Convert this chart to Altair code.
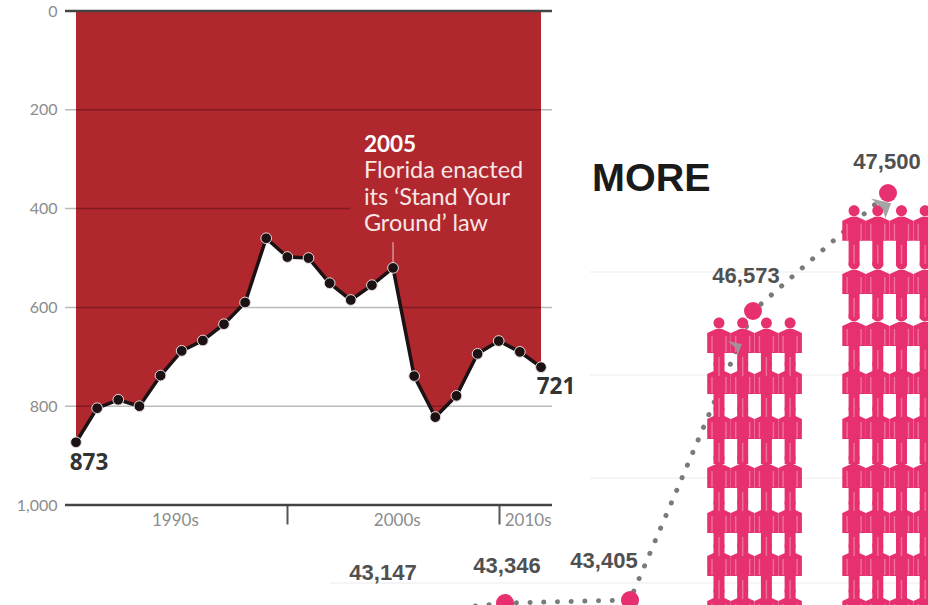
import altair as alt
import pandas as pd

# Florida firearm murders per year
years = list(range(1990, 2013))
murders = [873, 804, 787, 800, 738, 688, 667, 634, 590, 460, 498, 500,
           551, 585, 555, 520, 739, 822, 779, 694, 668, 690, 721]
grid_levels = [200, 400, 600, 800]
grid_ends = [2012.52, 2002.96, 2012.52, 2012.52]
frame_levels = [0, 1000]
axis_levels = [0, 200, 400, 600, 800, 1000]
decade_labels = ["1990s", "2000s", "2010s"]
decade_centres = [1994.7, 2005.2, 2011.39]
note_lines = ["2005", "Florida enacted", "its ‘Stand Your", "Ground’ law"]
note_levels = [271, 324, 378, 431]

# National totals drawn as a dotted series with a pictogram behind it
periods = [0, 1, 2, 3, 4]
totals = [43147, 43346, 43405, 46573, 47500]
label_dx = [3, 2, -26, -7, -1]
label_dy = [-43, -37, -39, -35, -31]
faint_levels = [43591, 44743, 45872, 46879]
faint_starts = [-0.4, 1.68, 1.68, 1.68]

# Pictogram: people per row, and the height of each row
stack_seats = [[0, 1, 2, 3], [5.7, 6.7, 7.7, 8.7]]
stack_rows = [[0, 0.96, 1.87, 2.83, 3.87, 4.83, 5.70],
              [0, 0.96, 1.87, 2.83, 3.87, 4.83, 5.85, 6.96, 8.09]]

RED = "#b0272d"
PINK = "#e6306f"
GREY = "#8c8c8c"
DARK = "#333333"
SANS = "Lato"
ARIAL = "Liberation Sans"

PERSON = ("M-5.5,-9a5.5,5.5 0 1,0 11,0a5.5,5.5 0 1,0 -11,0Z"
          "M-3,-3L3,-3L11.8,1L11.8,21L5.5,21L5.5,46L-5.5,46L-5.5,21L-11.8,21L-11.8,1Z")
PERSON_SEAMS = "M-7,4L-7,20M7,4L7,20M0,25L0,44"
ARROW = "M-12,-9L9,-4L3,12L0,2Z"

florida = pd.DataFrame({"year": years, "murders": murders})
grid = pd.DataFrame({"level": grid_levels, "start": 1989.48, "end": grid_ends})
frame = pd.DataFrame({"level": frame_levels, "start": 1989.48, "end": 2012.52})
decades = pd.DataFrame({"label": decade_labels, "year": decade_centres, "level": 1032})
note = pd.DataFrame({"line": note_lines, "year": 2003.62, "level": note_levels})
leader = pd.DataFrame({"year": [2005], "top": [468], "bottom": [520]})
ends = pd.DataFrame({"year": [1990, 2012], "murders": [873, 721]})

x_years = alt.Scale(domain=[1990, 2012], range=[76, 541])
y_murders = alt.Scale(domain=[0, 1000], range=[11, 505])
year_axis = alt.Axis(
    orient="bottom", offset=-100, values=[2000, 2010], labels=False, domain=False,
    grid=False, title=None, tickSize=19, tickWidth=2, tickColor="#555555")
count_axis = alt.Axis(
    orient="left", offset=-65, values=axis_levels, format=",d", domain=False,
    ticks=False, grid=False, title=None, labelPadding=8, labelFontSize=16,
    labelFont=SANS, labelColor=GREY, labelOverlap=False)


def year_x(field="year"):
    return alt.X(f"{field}:Q", scale=x_years, axis=year_axis)


def count_y(field="murders"):
    return alt.Y(f"{field}:Q", scale=y_murders, axis=count_axis)


area = alt.Chart(florida).transform_calculate(ceiling="0").mark_area(color=RED).encode(
    x=year_x(), y=count_y(), y2=alt.Y2("ceiling:Q"),
)
grid_rules = alt.Chart(grid).mark_rule(color="#000000", opacity=0.27, strokeWidth=1.5).encode(
    x=year_x("start"), x2="end:Q", y=count_y("level"),
)
frame_rules = alt.Chart(frame).mark_rule(color="#444444", strokeWidth=2.5).encode(
    x=year_x("start"), x2="end:Q", y=count_y("level"),
)
leader_rule = alt.Chart(leader).mark_rule(color="#e8c9ca", strokeWidth=1).encode(
    x=year_x(), y=count_y("top"), y2="bottom:Q",
)
line = alt.Chart(florida).mark_line(color="#1c1214", strokeWidth=3.5).encode(
    x=year_x(), y=count_y())
dots = alt.Chart(florida).mark_point(
    filled=True, fill="#1c1214", stroke="#e4dcdc", strokeWidth=1, opacity=1, size=115
).encode(x=year_x(), y=count_y())
decade_text = alt.Chart(decades).mark_text(font=SANS, fontSize=17, color=GREY).encode(
    x=year_x(), y=count_y("level"), text="label:N",
)
note_head = alt.Chart(note.iloc[:1]).mark_text(
    font=SANS, fontSize=22.5, fontWeight="bold", color="#ffffff", align="left"
).encode(x=year_x(), y=count_y("level"), text="line:N")
note_body = alt.Chart(note.iloc[1:]).mark_text(
    font=SANS, fontSize=23.5, color="#f6e6e6", align="left"
).encode(x=year_x(), y=count_y("level"), text="line:N")
end_low = alt.Chart(ends.iloc[:1]).mark_text(
    font="Open Sans", fontSize=22.5, fontWeight="bold", color=DARK, dx=13, dy=21
).encode(x=year_x(), y=count_y(), text="murders:Q")
end_high = alt.Chart(ends.iloc[1:]).mark_text(
    font="Open Sans", fontSize=22.5, fontWeight="bold", color=DARK, dx=15, dy=20
).encode(x=year_x(), y=count_y(), text="murders:Q")

left = alt.layer(area, grid_rules, frame_rules, leader_rule, line, dots,
                 decade_text, note_head, note_body, end_low, end_high)

# Right-hand series, on a stepped value scale
x_period = alt.Scale(domain=periods, range=[380, 505, 630, 753, 888])
y_total = alt.Scale(domain=totals, range=[616, 603, 600, 311, 193])
national = pd.DataFrame({"period": periods, "total": totals})
faint = pd.DataFrame({"level": faint_levels, "start": faint_starts, "end": 4.35})
arrows = pd.DataFrame({"period": [3.96, 2.86], "total": [47390, 46180], "size": [3.6, 1.8]})

px = alt.X("period:Q", scale=x_period, axis=None)
py = alt.Y("total:Q", scale=y_total, axis=None)

faint_rules = alt.Chart(faint).mark_rule(color="#f2f2f2", strokeWidth=1.5).encode(
    x=alt.X("start:Q", scale=x_period, axis=None), x2="end:Q",
    y=alt.Y("level:Q", scale=y_total, axis=None),
)
dotted = alt.Chart(national).mark_line(
    color="#7a7a7a", strokeWidth=5, strokeCap="round", strokeDash=[0.1, 13.6]
).encode(x=px, y=py)
pink_dots = alt.Chart(national).mark_point(
    filled=True, fill=PINK, opacity=1, size=324, strokeWidth=0
).encode(x=px, y=py)
total_labels = [
    alt.Chart(national.iloc[[i]]).mark_text(
        font=ARIAL, fontSize=22, fontWeight="bold", color="#505050",
        dx=label_dx[i], dy=label_dy[i]
    ).encode(x=px, y=py, text=alt.Text("total:Q", format=","))
    for i in periods
]
more = alt.Chart(national.iloc[:1]).mark_text(
    text="MORE", font=ARIAL, fontSize=39.5, fontWeight="bold", color="#1a1a1a", align="left"
).encode(x=alt.value(592), y=alt.value(179))

right = alt.layer(faint_rules, dotted, *total_labels, more)

# Pictogram stacks
people = pd.DataFrame(
    [{"seat": s, "row": r}
     for seats, rows in zip(stack_seats, stack_rows)
     for s in seats for r in rows]
)
x_seat = alt.Scale(domain=[0, 1], range=[719, 742.7])
y_row = alt.Scale(domain=[0, 8], range=[600, 224])
sx = alt.X("seat:Q", scale=x_seat, axis=None)
sy = alt.Y("row:Q", scale=y_row, axis=None)
bodies = alt.Chart(people).mark_point(
    shape=PERSON, filled=True, fill=PINK, opacity=1, size=4, strokeWidth=0
).encode(x=sx, y=sy)
seams = alt.Chart(people).mark_point(
    shape=PERSON_SEAMS, filled=False, stroke="#ffffff", strokeOpacity=0.3, strokeWidth=1.5,
    opacity=1, size=4
).encode(x=sx, y=sy)
stacks = alt.layer(bodies, seams)

markers = alt.layer(
    pink_dots,
    alt.Chart(arrows).mark_point(
        shape=ARROW, filled=True, fill="#9a9a9a", opacity=0.9, strokeWidth=0
    ).encode(x=px, y=py, size=alt.Size("size:Q", scale=None, legend=None)),
)

chart = alt.layer(left, right, stacks, markers).resolve_scale(
    x="independent", y="independent"
).properties(
    width=928, height=605, padding=0, autosize=alt.AutoSizeParams(type="none"),
    background="#ffffff",
).configure_view(stroke=None)

chart.save("out.html", embed_options={"renderer": "svg", "actions": False})
